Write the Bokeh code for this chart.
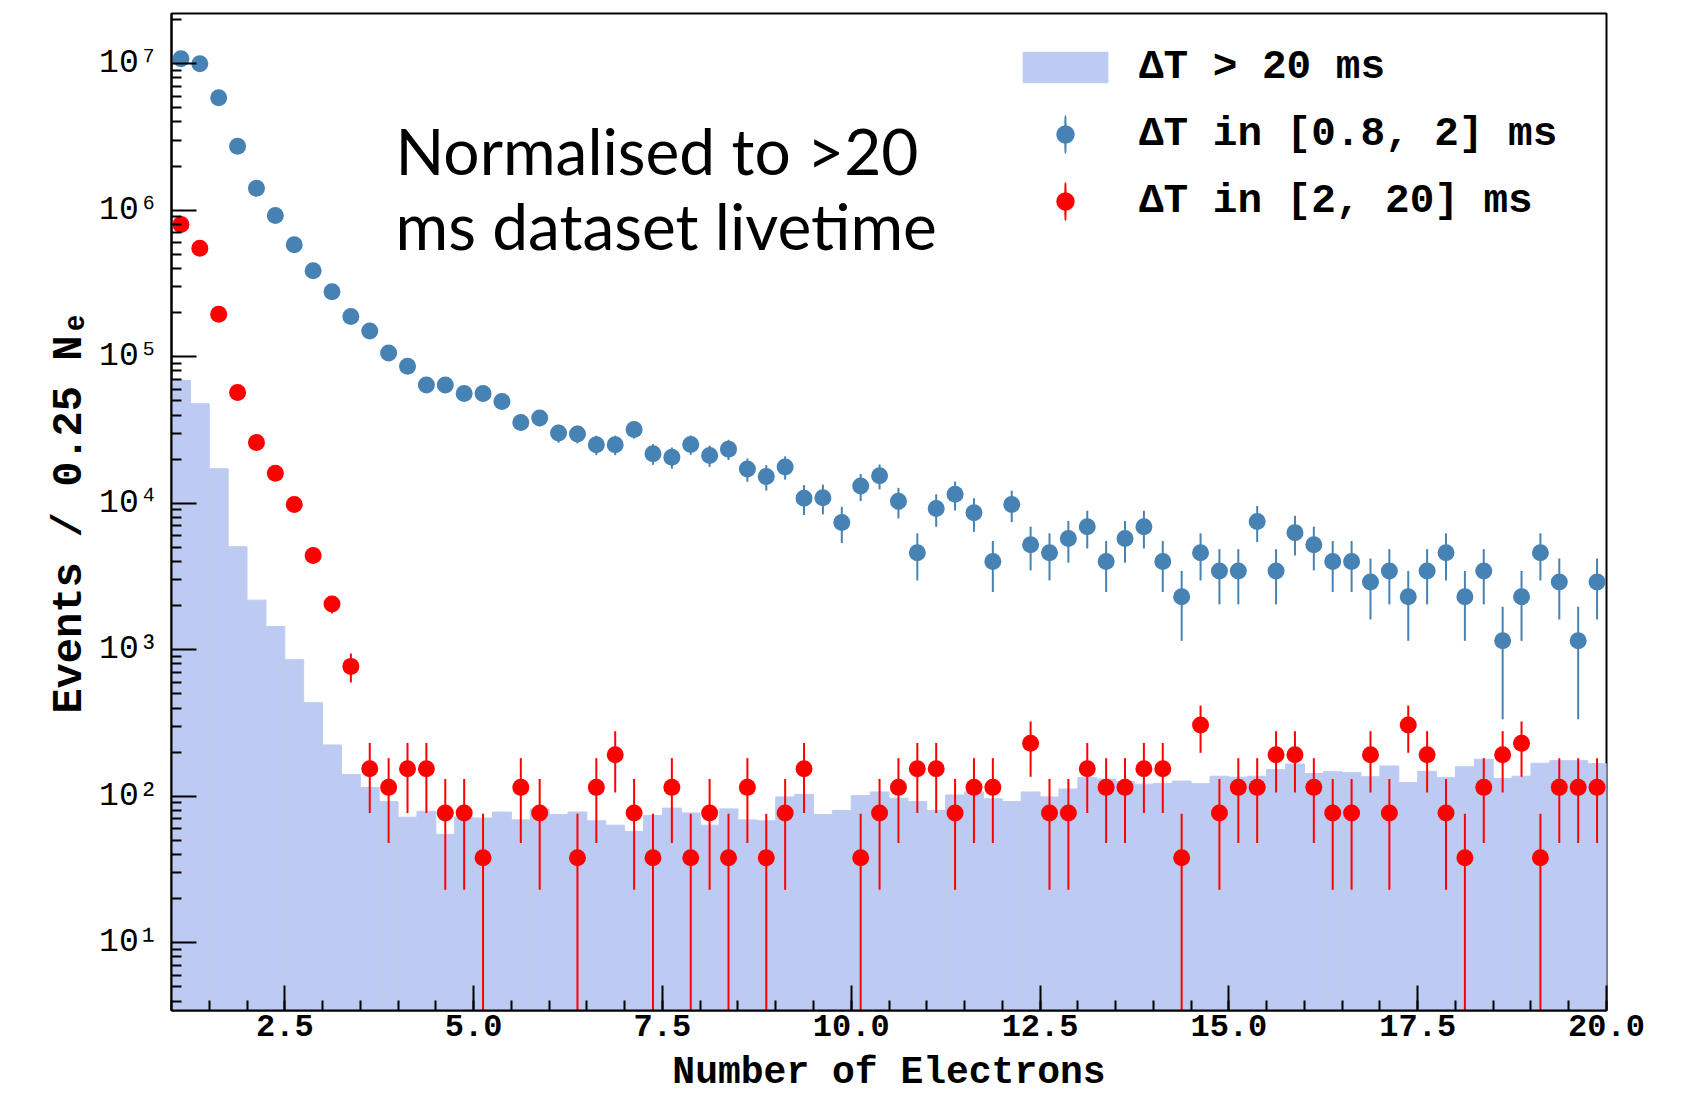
from bokeh.plotting import figure
from bokeh.models import (Range1d, FixedTicker, SingleIntervalTicker, PrintfTickFormatter,
                          Legend, LegendItem, Label)
from bokeh.layouts import column
from bokeh.embed import file_html
from bokeh.resources import INLINE

# ---------------- data ----------------
bin_width = 0.25
first_edge = 1.0
n_bins = 76
bin_edges = [first_edge + bin_width * i for i in range(n_bins + 1)]
bin_centers = [first_edge + bin_width * (i + 0.5) for i in range(n_bins)]

# Delta T > 20 ms (filled histogram)
hist_gt20 = [69000, 47800, 17200, 5050, 2180, 1440, 855, 435, 224, 141,
             115, 92, 72, 79, 55, 72,
             71, 78, 69, 82, 75, 78, 68, 63.5, 57.5, 74,
             83, 77, 63.5, 82, 69, 68, 99, 103, 75, 80,
             101, 107, 97, 92, 80, 102, 107, 96, 92, 107,
             99, 112, 134, 131, 126, 121, 122, 127, 122, 137,
             135, 137, 152, 166, 143, 147, 145, 136, 161, 124,
             148, 134, 159, 179, 132, 137, 168, 175, 175, 167]

# Delta T in [0.8, 2] ms
blue_vals = [1.08e7, 1.0e7, 5.86e6, 2.73e6, 1.41e6, 9.2e5, 5.8e5, 3.86e5, 2.78e5, 1.88e5,
             1.50e5, 1.06e5, 8.6e4, 6.4e4, 6.4e4, 5.6e4, 5.6e4, 4.95e4, 3.56e4, 3.82e4,
             3.01e4, 2.97e4, 2.51e4, 2.51e4, 3.19e4, 2.18e4, 2.06e4, 2.52e4, 2.12e4, 2.34e4,
             1.71e4, 1.52e4, 1.77e4, 1.08e4, 1.09e4, 7.4e3, 1.31e4, 1.54e4, 1.03e4, 4.6e3,
             9.2e3, 1.15e4, 8.6e3, 4.0e3, 9.8e3, 5.2e3, 4.6e3, 5.75e3, 6.9e3, 4.0e3,
             5.75e3, 6.9e3, 4.0e3, 2.3e3, 4.6e3, 3.45e3, 3.45e3, 7.5e3, 3.45e3, 6.3e3,
             5.2e3, 4.0e3, 4.0e3, 2.9e3, 3.45e3, 2.3e3, 3.45e3, 4.6e3, 2.3e3, 3.45e3,
             1.15e3, 2.3e3, 4.6e3, 2.9e3, 1.15e3, 2.9e3]
blue_errs = [7.9e4, 7.6e4, 5.8e4, 4.0e4, 2.85e4, 2.3e4, 1.83e4, 1.49e4, 1.26e4, 1.04e4,
             9.3e3, 7.8e3, 7.0e3, 6.1e3, 6.1e3, 5.7e3, 5.7e3, 5.3e3, 4.5e3, 4.7e3,
             4.2e3, 4.1e3, 3.8e3, 3.8e3, 4.3e3, 3.5e3, 3.4e3, 3.8e3, 3.5e3, 3.7e3,
             3.1e3, 3.0e3, 3.2e3, 2.5e3, 2.5e3, 2.06e3, 2.74e3, 2.98e3, 2.43e3, 1.63e3,
             2.3e3, 2.57e3, 2.22e3, 1.52e3, 2.37e3, 1.72e3, 1.63e3, 1.82e3, 1.99e3, 1.52e3,
             1.82e3, 1.99e3, 1.52e3, 1.15e3, 1.63e3, 1.41e3, 1.41e3, 2.07e3, 1.41e3, 1.9e3,
             1.72e3, 1.52e3, 1.52e3, 1.29e3, 1.41e3, 1.15e3, 1.41e3, 1.63e3, 1.15e3, 1.41e3,
             815, 1.15e3, 1.63e3, 1.29e3, 815, 1.29e3]

# Delta T in [2, 20] ms (None = empty bin)
red_vals = [8.0e5, 5.5e5, 1.95e5, 5.7e4, 2.6e4, 1.6e4, 9.8e3, 4.4e3, 2.05e3, 770,
            154, 115, 154, 154, 77, 77, 38, None, 115, 77,
            None, 38, 115, 192, 77, 38, 115, 38, 77, 38,
            115, 38, 77, 154, None, None, 38, 77, 115, 154,
            154, 77, 115, 115, None, 230, 77, 77, 154, 115,
            115, 154, 154, 38, 307, 77, 115, 115, 192, 192,
            115, 77, 77, 192, 77, 307, 192, 77, 38, 115,
            192, 230, 38, 115, 115, 115]
red_errs = [5540, 4600, 2740, 1480, 1000, 784, 613, 411, 280, 172,
            77, 67, 77, 77, 54, 54, 38, None, 67, 54,
            None, 38, 67, 86, 54, 38, 67, 38, 54, 38,
            67, 38, 54, 77, None, None, 38, 54, 67, 77,
            77, 54, 67, 67, None, 94, 54, 54, 77, 67,
            67, 77, 77, 38, 109, 54, 67, 67, 86, 86,
            67, 54, 54, 86, 54, 109, 86, 54, 38, 67,
            86, 94, 38, 67, 67, 67]

y_tick_labels = {10: "10\u00b9", 100: "10\u00b2", 1000: "10\u00b3", 10000: "10\u2074",
                 100000: "10\u2075", 1000000: "10\u2076", 10000000: "10\u2077"}

label_hist = "\u0394T > 20 ms"
label_blue = "\u0394T in [0.8, 2] ms"
label_red = "\u0394T in [2, 20] ms"
x_title = "Number of Electrons"
y_title = "Events / 0.25 N\u2091"
annotation_lines = ["Normalised to >20", "ms dataset livetime"]

# ---------------- styles ----------------
HIST_COLOR = "#bdcbf2"
BLUE = "#4682b4"
RED = "#ff0000"
MONO = "Liberation Mono"
W = 1706
H_MAIN = 1050
H_TITLE = 1094 - H_MAIN

p = figure(width=W, height=H_MAIN, y_axis_type="log",
           x_range=Range1d(1.0, 20.0), y_range=Range1d(3.45, 2.2e7),
           output_backend="svg", toolbar_location=None,
           min_border_left=171, min_border_right=100, min_border_top=13, min_border_bottom=40,
           background_fill_color="white", border_fill_color="white")

p.grid.visible = False
p.outline_line_color = "black"
p.outline_line_width = 2

# histogram
floor = [1e-3] * n_bins
hist_r = p.quad(left=bin_edges[:-1], right=bin_edges[1:], bottom=floor, top=hist_gt20,
                fill_color=HIST_COLOR, line_color=HIST_COLOR, line_width=1)

# blue points + errors
b_lo = [max(v - e, 1e-3) for v, e in zip(blue_vals, blue_errs)]
b_hi = [v + e for v, e in zip(blue_vals, blue_errs)]
p.segment(x0=bin_centers, y0=b_lo, x1=bin_centers, y1=b_hi, line_color=BLUE, line_width=2)
blue_r = p.scatter(x=bin_centers, y=blue_vals, size=17, fill_color=BLUE, line_color=None)

# red points + errors
rx = [c for c, v in zip(bin_centers, red_vals) if v is not None]
rv = [v for v in red_vals if v is not None]
re_ = [e for e in red_errs if e is not None]
r_lo = [max(v - e, 1e-3) for v, e in zip(rv, re_)]
r_hi = [v + e for v, e in zip(rv, re_)]
p.segment(x0=rx, y0=r_lo, x1=rx, y1=r_hi, line_color=RED, line_width=2)
red_r = p.scatter(x=rx, y=rv, size=17, fill_color=RED, line_color=None)

# legend keys for the vertical error bar: a zero-width ellipse hidden under the first marker
blue_key = p.ellipse(x=bin_centers[:1], y=blue_vals[:1], width=0.01, height=1,
                     width_units="screen", height_units="screen",
                     fill_color=None, line_color=BLUE, line_width=2)
red_key = p.ellipse(x=rx[:1], y=rv[:1], width=0.01, height=1,
                    width_units="screen", height_units="screen",
                    fill_color=None, line_color=RED, line_width=2)

# axes
xa = p.xaxis[0]
xa.ticker = SingleIntervalTicker(interval=2.5, num_minor_ticks=5)
xa.formatter = PrintfTickFormatter(format="%.1f")
ya = p.yaxis[0]
ya.ticker = FixedTicker(ticks=list(y_tick_labels.keys()),
                        minor_ticks=[m * 10 ** k for k in range(0, 8) for m in range(2, 10)])
ya.major_label_overrides = y_tick_labels

for ax in (xa, ya):
    ax.axis_line_color = "black"
    ax.axis_line_width = 2
    ax.major_tick_in = 25
    ax.major_tick_out = 0
    ax.minor_tick_in = 10
    ax.minor_tick_out = 0
    ax.major_tick_line_width = 2
    ax.minor_tick_line_width = 2
    ax.major_tick_line_color = "black"
    ax.minor_tick_line_color = "black"
    ax.major_label_text_font = MONO
    ax.major_label_text_color = "black"
    ax.axis_label_text_font = MONO
    ax.axis_label_text_font_style = "bold"
    ax.axis_label_text_color = "black"
    ax.axis_label_text_font_size = "42px"

xa.major_label_text_font_size = "32px"
xa.major_label_text_font_style = "bold"
xa.major_label_standoff = 4

ya.major_label_text_font_size = "33px"
ya.major_label_standoff = 13
ya.axis_label = y_title
ya.axis_label_standoff = 2

# legends
legend_style = dict(orientation="vertical", glyph_width=106, padding=0, margin=0,
                    label_standoff=21, border_line_color=None, background_fill_alpha=0,
                    label_text_font=MONO, label_text_font_style="bold",
                    label_text_font_size="41px", label_text_color="black")
legend_hist = Legend(items=[LegendItem(label=label_hist, renderers=[hist_r])],
                     location=(841, 920), glyph_height=38, label_height=38, **legend_style)
legend_pts = Legend(items=[LegendItem(label=label_blue, renderers=[blue_key, blue_r]),
                           LegendItem(label=label_red, renderers=[red_key, red_r])],
                    location=(841, 786), glyph_height=46, label_height=46, spacing=21,
                    **legend_style)
p.add_layout(legend_hist)
p.add_layout(legend_pts)

# annotation text
for line, ymid in zip(annotation_lines, [860, 785]):
    p.add_layout(Label(x=224, y=ymid, x_units="screen", y_units="screen", text=line,
                       text_font="Lato", text_font_size="64px", text_color="black",
                       text_baseline="middle", text_align="left"))

# strip below the main plot carrying the x-axis title (its frame aligns with the main frame)
t = figure(width=W, height=H_TITLE, x_range=Range1d(0, 1), y_range=Range1d(0, 1),
           x_axis_type=None, y_axis_type=None, output_backend="svg", toolbar_location=None,
           min_border_left=0, min_border_right=0, min_border_top=0, min_border_bottom=0,
           background_fill_color="white", border_fill_color="white")
t.outline_line_color = None
t.grid.visible = False
t.add_layout(Label(x=717.5, y=H_TITLE / 2, x_units="screen", y_units="screen", text=x_title,
                   text_font=MONO, text_font_style="bold", text_font_size="38px",
                   text_color="black", text_baseline="middle", text_align="center"))

page = column(p, t, spacing=0)
open("out.html", "w").write(file_html(page, INLINE))
